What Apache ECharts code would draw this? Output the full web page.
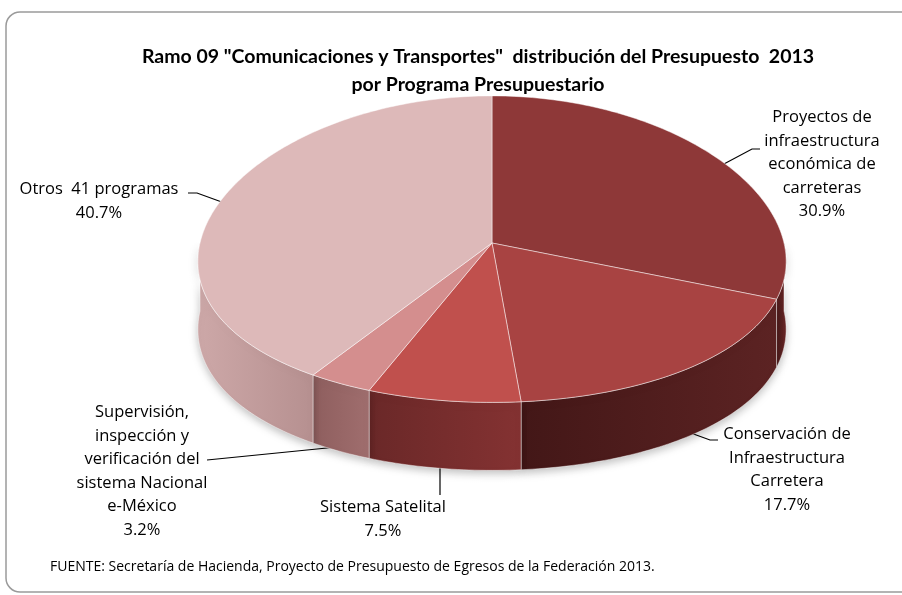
<!DOCTYPE html>
<html>
<head>
<meta charset="utf-8">
<script src="https://cdn.jsdelivr.net/npm/echarts@6.0.0/dist/echarts.min.js"></script>
<style>
  html, body { margin: 0; padding: 0; background: #fff; }
  #chart { width: 902px; height: 595px; }
</style>
</head>
<body>
<div id="chart"></div>
<script>
// data
const categories = [
  'Proyectos de\ninfraestructura\neconómica de\ncarreteras',
  'Conservación de\nInfraestructura\nCarretera',
  'Sistema Satelital',
  'Supervisión,\ninspección y\nverificación del\nsistema Nacional\ne-México',
  'Otros  41 programas'
];
const values = [30.9, 17.7, 7.5, 3.2, 40.7];

const titleLines = [
  'Ramo 09 "Comunicaciones y Transportes"  distribución del Presupuesto  2013',
  'por Programa Presupuestario'
];
const sourceText = 'FUENTE: Secretaría de Hacienda, Proyecto de Presupuesto de Egresos de la Federación 2013.';

// look
const topColors = ['#8E3838', '#A84342', '#C0504D', '#D48E8E', '#DDB9B9'];
const sideColors = [
  ['#6A2727', '#4E1C1C'],
  ['#5C2323', '#431717'],
  ['#843232', '#6A2828'],
  ['#A06E6E', '#8E5E5E'],
  ['#B69090', '#CDA8A8']
];

// pseudo 3D pie with a little perspective (front looks bigger)
const cx = 492, cy = 243, rx = 292, ry = 153, depth = 68;
const px = 0.12, py = 0.04;
const total = values.reduce((a, b) => a + b, 0);

function pt(t, dz) {
  const X = Math.sin(t), Z = Math.cos(t);
  return [cx + rx * X / (1 + px * Z), cy - ry * Z / (1 + py * Z) + dz];
}
function arc(a, b, dz) {
  const pts = [];
  const n = Math.max(2, Math.ceil((b - a) / (Math.PI / 180)));
  for (let k = 0; k <= n; k++) pts.push(pt(a + (b - a) * k / n, dz));
  return pts;
}

function renderItem(params, api) {
  const i = params.dataIndex;
  let before = 0;
  for (let k = 0; k < i; k++) before += values[k];
  const a = before / total * Math.PI * 2;
  const b = a + api.value(1) / total * Math.PI * 2;
  const children = [];

  // visible outer wall (front half)
  const s = Math.max(a, Math.PI / 2), e = Math.min(b, Math.PI * 1.5);
  if (e > s) {
    const upper = arc(s, e, 0);
    const lower = arc(s, e, depth).reverse();
    children.push({
      type: 'polygon',
      shape: { points: upper.concat(lower) },
      style: {
        fill: new echarts.graphic.LinearGradient(0, 0, 1, 0, [
          { offset: 0, color: sideColors[i][1] },
          { offset: 1, color: sideColors[i][0] }
        ]),
        stroke: 'rgba(255,255,255,0.55)',
        lineWidth: 0.8,
        shadowBlur: 8,
        shadowOffsetY: 3,
        shadowColor: 'rgba(0,0,0,0.25)'
      },
      z2: 1
    });
  }
  // top face
  children.push({
    type: 'polygon',
    shape: { points: [[cx, cy]].concat(arc(a, b, 0)) },
    style: { fill: topColors[i], stroke: 'rgba(255,255,255,0.6)', lineWidth: 0.8 },
    z2: 2
  });
  return { type: 'group', children: children };
}

// label layout
const labelFont = '"Open Sans", sans-serif';
const labelLayout = [
  { x: 822, y: 106, line: [[707, 173], [752, 149], [760, 149]] },
  { x: 787, y: 423, line: [[688, 432], [710, 440], [718, 440]] },
  { x: 383, y: 496, line: [[440, 468], [440, 495]] },
  { x: 142, y: 401, line: [[337, 447], [207, 460]] },
  { x: 99, y: 178, line: [[230, 205], [197, 193], [188, 193]] }
];
const lh = 23.5;

const graphics = [
  {
    type: 'rect',
    shape: { x: 6, y: 12, width: 920, height: 580, r: 14 },
    style: { fill: 'none', stroke: '#9a9a9a', lineWidth: 1.5 },
    silent: true
  },
  {
    type: 'text', x: 478, y: 43,
    style: {
      text: titleLines.join('\n'), fill: '#000', align: 'center',
      font: 'bold 19.5px Lato, "Liberation Sans", sans-serif', lineHeight: 28
    }
  },
  {
    type: 'text', x: 50, y: 560,
    style: { text: sourceText, fill: '#000', font: '14px ' + labelFont }
  }
];
categories.forEach((name, i) => {
  const L = labelLayout[i];
  graphics.push({
    type: 'polyline',
    shape: { points: L.line },
    style: { stroke: '#000', lineWidth: 1.2, fill: 'none' }
  });
  graphics.push({
    type: 'text', x: L.x, y: L.y,
    style: {
      text: name + '\n' + values[i].toFixed(1) + '%',
      fill: '#000', align: 'center', font: '16.5px ' + labelFont, lineHeight: lh
    }
  });
});

const chart = echarts.init(document.getElementById('chart'));
chart.setOption({
  animation: false,
  backgroundColor: '#fff',
  graphic: graphics,
  series: [{
    type: 'custom',
    coordinateSystem: 'none',
    renderItem: renderItem,
    data: values.map((v, i) => [i, v])
  }]
});
</script>
</body>
</html>
